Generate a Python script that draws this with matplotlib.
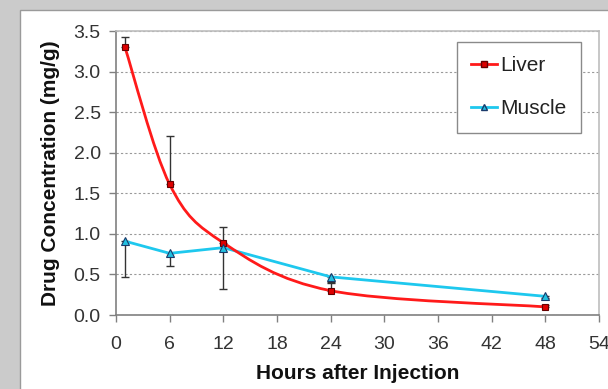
import numpy as np
import matplotlib
matplotlib.use('Agg')
import matplotlib.pyplot as plt
from matplotlib.path import Path
from matplotlib.patches import PathPatch, Rectangle
from matplotlib.lines import Line2D

plt.rcParams['font.family'] = ['Liberation Sans', 'DejaVu Sans']

# hours after injection
hours = [1, 6, 12, 24, 48]

# liver concentration (mg/g) and upper error
liver = [3.30, 1.61, 0.89, 0.30, 0.10]
liver_err_up = [0.13, 0.59, 0.19, 0.10, 0.02]

# muscle concentration (mg/g) and lower error
muscle = [0.91, 0.76, 0.83, 0.47, 0.23]
muscle_err_down = [0.44, 0.15, 0.51, 0.06, 0.02]

x_ticks = [0, 6, 12, 18, 24, 30, 36, 42, 48, 54]
y_ticks = [0.0, 0.5, 1.0, 1.5, 2.0, 2.5, 3.0, 3.5]

liver_color = '#ff1a1a'
muscle_color = '#1ec8ee'


def smooth_path(xs, ys):
    # excel style smoothed line: bezier segments through every point
    pts = np.column_stack([xs, ys]).astype(float)
    n = len(pts)
    verts = [pts[0]]
    codes = [Path.MOVETO]
    for i in range(n - 1):
        p0 = pts[max(i - 1, 0)]
        p1 = pts[i]
        p2 = pts[i + 1]
        p3 = pts[min(i + 2, n - 1)]
        c1 = p1 + (p2 - p0) / 6.0
        c2 = p2 - (p3 - p1) / 6.0
        verts += [c1, c2, p2]
        codes += [Path.CURVE4] * 3
    return Path(verts, codes)


fig = plt.figure(figsize=(6.08, 3.89), dpi=100)
fig.set_facecolor('#cbcbcb')

# white slide panel behind the chart
panel = Rectangle((20 / 608, -0.01), 1.0, 1.01 - 10 / 389, transform=fig.transFigure,
                  facecolor='white', edgecolor='#9a9a9a', linewidth=1.0, zorder=-5)
fig.add_artist(panel)

ax = fig.add_axes([116 / 608, 1 - 315 / 389, (599 - 116) / 608, (315 - 31) / 389])
ax.set_zorder(1)
ax.set_facecolor('white')

# liver is a smoothed curve, muscle straight segments
ax.plot(hours, muscle, color=muscle_color, linewidth=2.0, zorder=3)
ax.add_patch(PathPatch(smooth_path(hours, liver), facecolor='none',
                       edgecolor=liver_color, linewidth=2.0, zorder=3))

# error bars
ax.errorbar(hours, liver, yerr=[np.zeros(len(hours)), liver_err_up], fmt='none',
            ecolor='#333333', elinewidth=1.0, capsize=3, capthick=1.0, zorder=2)
ax.errorbar(hours, muscle, yerr=[muscle_err_down, np.zeros(len(hours))], fmt='none',
            ecolor='#333333', elinewidth=1.0, capsize=3, capthick=1.0, zorder=2)

# markers
ax.plot(hours, liver, linestyle='none', marker='s', markersize=4.8,
        markerfacecolor='#dd0000', markeredgecolor='#660000', markeredgewidth=0.8, zorder=4)
ax.plot(hours, muscle, linestyle='none', marker='^', markersize=5.2,
        markerfacecolor='#22c0e0', markeredgecolor='#1a3a6a', markeredgewidth=0.8, zorder=4)

ax.set_xlim(0, 54)
ax.set_ylim(0, 3.5)
ax.set_xticks(x_ticks)
ax.set_yticks(y_ticks)
ax.set_yticklabels([f'{v:.1f}' for v in y_ticks])
ax.tick_params(axis='both', colors='#808080', labelcolor='#333333', labelsize=14,
               length=5, width=1.0, direction='out')
ax.tick_params(axis='x', pad=10)
ax.tick_params(axis='y', pad=6)

ax.grid(axis='y', color='#9a9a9a', linestyle=(0, (2, 2)), linewidth=0.8)
ax.set_axisbelow(True)

ax.spines['left'].set_color('#808080')
ax.spines['bottom'].set_color('#808080')
ax.spines['top'].set_color('#bdbdbd')
ax.spines['right'].set_color('#bdbdbd')
for s in ax.spines.values():
    s.set_linewidth(1.2)

ax.set_xlabel('Hours after Injection', fontsize=15, fontweight='bold', color='#111111', labelpad=8)
ax.set_ylabel('Drug Concentration (mg/g)', fontsize=15, fontweight='bold', color='#111111', labelpad=10)

handles = [
    Line2D([], [], color=liver_color, linewidth=2.0, marker='s', markersize=4,
           markerfacecolor='#dd0000', markeredgecolor='#660000'),
    Line2D([], [], color=muscle_color, linewidth=2.0, marker='^', markersize=4.5,
           markerfacecolor='#22c0e0', markeredgecolor='#1a3a6a'),
]
leg = ax.legend(handles, ['Liver', 'Muscle'], loc='upper right',
                bbox_to_anchor=(0.963, 0.962), borderaxespad=0, fontsize=15,
                fancybox=False, framealpha=1, edgecolor='#8a8a8a',
                handlelength=1.25, handletextpad=0.15, labelspacing=1.15,
                borderpad=0.7)
leg.get_frame().set_linewidth(1.0)
for t in leg.get_texts():
    t.set_color('#222222')

fig.savefig('out.png', dpi=100, facecolor=fig.get_facecolor())
